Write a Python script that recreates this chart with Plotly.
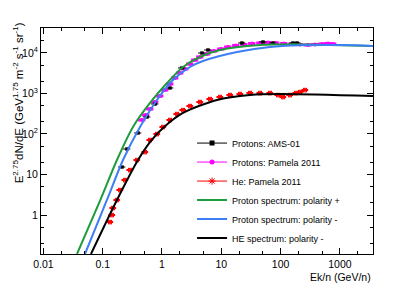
import plotly.graph_objects as go

# ---------------- data ----------------
ams_x = [0.2115, 0.257, 0.394, 0.558, 0.762, 1.364, 2.17, 4.73, 5.97, 22.3, 50.5, 74.5, 162, 189]
ams_y = [15.3, 42.6, 106, 263, 550, 1368, 4264, 10000, 11860, 17660, 18700, 17660, 17660, 17660]

pam_x = [0.460, 0.537, 0.628, 0.762, 0.925, 1.124, 1.364, 1.656, 2.012, 2.44, 2.97, 3.60, 4.37,
         5.74, 7.53, 9.89, 12.97, 17.7, 24.2, 32.9, 45.0, 61.4, 83.6, 114, 156, 212, 290, 380,
         499, 630, 765]
pam_y = [222, 294, 414, 617, 867, 1220, 1717, 2414, 3210, 4027, 5350, 6714, 7960,
         9443, 11200, 12560, 14070, 15320, 16220, 17170, 17660, 18160, 17660, 17170, 16680,
         16220, 15770, 16220, 16680, 17170, 16680]

he_x = [0.133, 0.1435, 0.149, 0.174, 0.196, 0.238, 0.289, 0.379, 0.517, 0.628, 0.823, 1.04,
        1.364, 1.79, 2.26, 2.97, 4.37, 6.45, 9.51, 14.0, 20.7, 30.5, 45.0, 66.3, 90.4, 110,
        144, 182, 212, 258]
he_y = [0.672, 1.0, 1.49, 2.35, 4.14, 7.31, 12.9, 22.8, 35.9, 71.1, 100, 149,
        222, 312, 391, 491, 617, 731, 820, 918, 972, 1029, 1029, 1029, 918, 820,
        918, 1029, 1088, 1220]

green_x = [0.0369, 0.090, 0.174, 0.324, 0.628, 1.214, 2.26, 4.37, 9.51, 45.0, 162, 681, 3610]
green_y = [0.109, 2.22, 22.8, 149, 583, 1816, 4510, 7970, 11860, 15770, 16500, 15800, 14900]

blue_x = [0.0503, 0.118, 0.22, 0.426, 0.823, 1.53, 2.97, 4.91, 18.4, 66.3, 212, 1000, 3610]
blue_y = [0.109, 2.35, 22.8, 149, 692, 2155, 4510, 6340, 10590, 14070, 15500, 15770, 14900]

black_x = [0.0635, 0.174, 0.394, 0.628, 1.04, 2.26, 8.46, 30.5, 97.7, 3610]
black_y = [0.109, 2.35, 22.8, 63.4, 140.6, 330, 692, 918, 972, 867]

x_tickvals = [0.01, 0.1, 1, 10, 100, 1000]
x_ticktext = ["0.01", "0.1", "1", "10", "100", "1000"]
y_tickvals = [1, 10, 100, 1000, 10000]
y_ticktext = ["1", "10", "10<sup>2</sup>", "10<sup>3</sup>", "10<sup>4</sup>"]

names = ["Protons: AMS-01", "Protons: Pamela 2011", "He: Pamela 2011",
         "Proton spectrum: polarity +", "Proton spectrum: polarity -", "HE spectrum: polarity -"]

GREEN = "#1e9c3c"
BLUE = "#3d7df5"
MAGENTA = "#ff00ff"
RED = "#ff0000"

fig = go.Figure()

# data points
fig.add_trace(go.Scatter(x=pam_x, y=pam_y, mode="markers", showlegend=False,
                         marker=dict(symbol="circle", size=4, color=MAGENTA),
                         error_x=dict(type="percent", value=14, color=MAGENTA, thickness=3, width=0),
                         error_y=dict(type="percent", value=7, color=MAGENTA, thickness=2, width=0)))
fig.add_trace(go.Scatter(x=he_x, y=he_y, mode="markers", showlegend=False,
                         marker=dict(symbol="x-thin-open", size=4, color=RED,
                                     line=dict(color=RED, width=1)),
                         error_x=dict(type="percent", value=13, color=RED, thickness=2, width=0),
                         error_y=dict(type="percent", value=10, color=RED, thickness=1, width=2)))
fig.add_trace(go.Scatter(x=ams_x, y=ams_y, mode="markers", showlegend=False,
                         marker=dict(symbol="square", size=3, color="black"),
                         error_x=dict(type="percent", value=14, color="black", thickness=1, width=0),
                         error_y=dict(type="percent", value=5, color="black", thickness=1, width=2)))

# model curves
fig.add_trace(go.Scatter(x=green_x, y=green_y, mode="lines", showlegend=False,
                         line=dict(color=GREEN, width=2, shape="spline", smoothing=0.8)))
fig.add_trace(go.Scatter(x=blue_x, y=blue_y, mode="lines", showlegend=False,
                         line=dict(color=BLUE, width=2, shape="spline", smoothing=0.8)))
fig.add_trace(go.Scatter(x=black_x, y=black_y, mode="lines", showlegend=False,
                         line=dict(color="black", width=2, shape="spline", smoothing=0.8)))

# legend entries
fig.add_trace(go.Scatter(x=[None], y=[None], mode="lines+markers", name=names[0],
                         line=dict(color="black", width=1), marker=dict(symbol="square", size=5, color="black")))
fig.add_trace(go.Scatter(x=[None], y=[None], mode="lines+markers", name=names[1],
                         line=dict(color=MAGENTA, width=1), marker=dict(symbol="circle", size=5, color=MAGENTA)))
fig.add_trace(go.Scatter(x=[None], y=[None], mode="lines+markers", name=names[2],
                         line=dict(color=RED, width=1),
                         marker=dict(symbol="asterisk-open", size=6, color=RED,
                                     line=dict(color=RED, width=1))))
fig.add_trace(go.Scatter(x=[None], y=[None], mode="lines", name=names[3], line=dict(color=GREEN, width=2)))
fig.add_trace(go.Scatter(x=[None], y=[None], mode="lines", name=names[4], line=dict(color=BLUE, width=2)))
fig.add_trace(go.Scatter(x=[None], y=[None], mode="lines", name=names[5], line=dict(color="black", width=2)))

FONT = "Liberation Sans, Arial, sans-serif"

fig.update_layout(
    width=415, height=283,
    margin=dict(l=41, r=42, t=28, b=29),
    paper_bgcolor="white", plot_bgcolor="white",
    font=dict(family=FONT, size=10, color="black"),
    showlegend=True,
    legend=dict(x=0.455, y=0.555, xanchor="left", yanchor="top",
                bgcolor="rgba(0,0,0,0)", font=dict(size=9, family=FONT),
                itemwidth=30, tracegroupgap=0),
    xaxis=dict(type="log", range=[-2.04, 3.558], showgrid=False, zeroline=False,
               showline=True, linecolor="black", linewidth=1, mirror="ticks",
               ticks="inside", ticklen=6, tickcolor="black",
               tickvals=x_tickvals, ticktext=x_ticktext, tickfont=dict(size=10.5),
               minor=dict(ticks="inside", ticklen=3, tickcolor="black", showgrid=False)),
    yaxis=dict(type="log", range=[-0.963, 4.617], showgrid=False, zeroline=False,
               showline=True, linecolor="black", linewidth=1, mirror="ticks",
               ticks="inside", ticklen=6, tickcolor="black",
               tickvals=y_tickvals, ticktext=y_ticktext, tickfont=dict(size=10.5),
               minor=dict(ticks="inside", ticklen=3, tickcolor="black", showgrid=False)),
    annotations=[
        dict(text="Ek/n (GeV/n)", xref="paper", yref="paper", x=1.0, y=-0.10,
             xanchor="right", yanchor="middle", showarrow=False, font=dict(size=10.5)),
        dict(text="E<sup>2.75</sup>dN/dE (GeV<sup>1.75</sup> m<sup>-2</sup> s<sup>-1</sup> sr<sup>-1</sup>)",
             xref="paper", yref="paper", x=-0.07, y=0.67, textangle=-90,
             xanchor="center", yanchor="middle", showarrow=False, font=dict(size=11.5)),
    ],
)

fig.write_html("out.html", config={"displayModeBar": False},
               post_script="document.body.style.margin='0';document.body.style.overflow='hidden';")
